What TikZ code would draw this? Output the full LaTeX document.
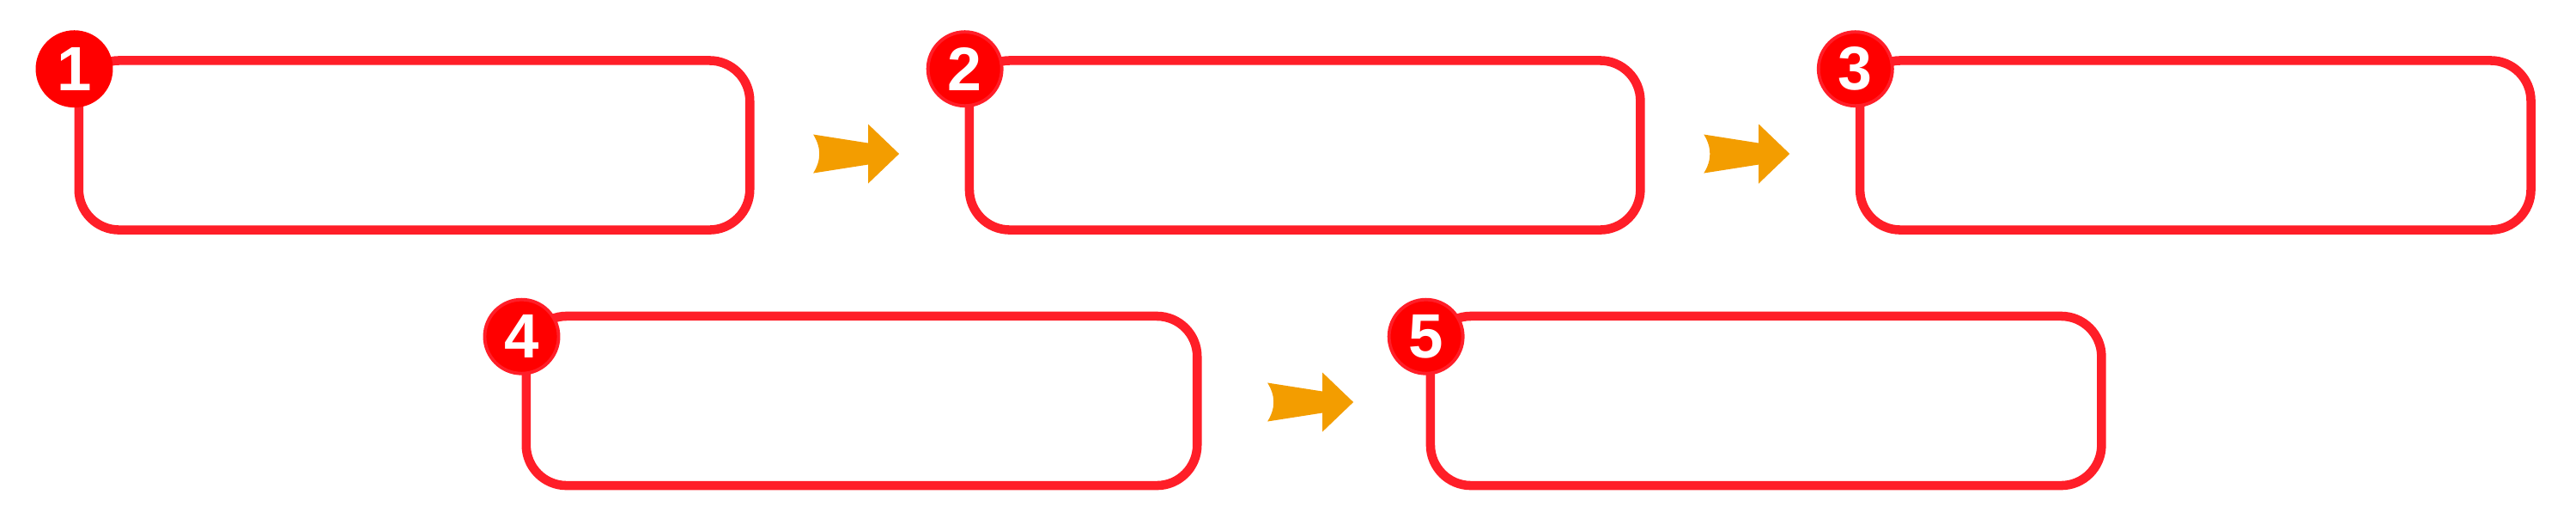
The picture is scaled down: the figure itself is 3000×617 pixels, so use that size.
\documentclass[tikz,border=0pt]{standalone}
\usepackage{graphicx}
\usepackage{fontspec}
\setmainfont{Liberation Sans}
\usetikzlibrary{positioning}
\definecolor{panelred}{RGB}{255,30,40}
\definecolor{badgered}{RGB}{255,0,0}
\definecolor{flowyellow}{RGB}{243,157,0}
\newcommand{\badgeText}[1]{\resizebox{!}{0.5cm}{\bfseries #1}}
\newcommand{\flowArrow}[2]{%
  \fill[flowyellow, shift={(#1)}, yshift=#2]
    (-54,-22.5) .. controls (-44.5,-7.5) and (-44.5,7.5) .. (-54,22.5)
    -- (10,12.5) -- (10,34.5) -- (46,0) -- (10,-34.5) -- (10,-12.5) -- cycle;}

\begin{document}
\begin{tikzpicture}[x=0.01cm, y=-0.01cm]
  \tikzset{panel/.style={draw=panelred, line width=3pt, rounded corners=0.47cm,
                         minimum width=7.81cm, minimum height=1.97cm},
           badge/.style={circle, fill=badgered, draw=panelred, line width=1.1pt,
                         minimum size=0.86cm, inner sep=0pt, text=white}}
  \useasboundingbox (0,0) rectangle (3000,617);
  \node[panel] (b1) at (482.5,169) {};
  \node[panel, right=2.45cm of b1] (b2) {};
  \node[panel, right=2.45cm of b2] (b3) {};
  \node[panel] (b4) at (1003.5,466.5) {};
  \node[panel, right=2.61cm of b4] (b5) {};
  \node[badge, draw=badgered] (n1) at ([yshift=-0.15cm]b1.north west) {\badgeText{1}};
  \node[badge] (n2) at ([yshift=-0.15cm]b2.north west) {\badgeText{2}};
  \node[badge] (n3) at ([yshift=-0.15cm]b3.north west) {\badgeText{3}};
  \node[badge] (n4) at ([yshift=-0.29cm]b4.north west) {\badgeText{4}};
  \node[badge] (n5) at ([yshift=-0.29cm]b5.north west) {\badgeText{5}};
  \path (b1.east) -- (b2.west) coordinate[midway] (a12);
  \path (b2.east) -- (b3.west) coordinate[midway] (a23);
  \path (b4.east) -- (b5.west) coordinate[midway] (a45);
  \flowArrow{a12}{-0.1cm}
  \flowArrow{a23}{-0.1cm}
  \flowArrow{a45}{-0.015cm}
\end{tikzpicture}
\end{document}
